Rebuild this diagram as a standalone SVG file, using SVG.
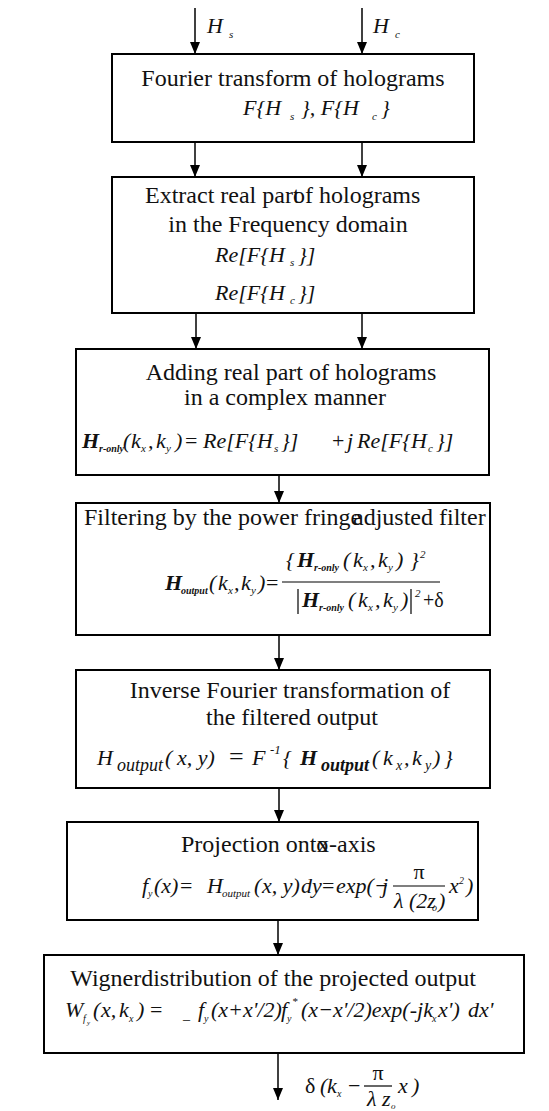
<svg xmlns="http://www.w3.org/2000/svg" width="549" height="1111" viewBox="0 0 549 1111">
<defs>
<marker id="ah" viewBox="0 0 12 10" refX="12" refY="5" markerWidth="12" markerHeight="10" markerUnits="userSpaceOnUse" orient="auto">
<path d="M0,0 L12,5 L0,10 z" fill="#000"/>
</marker>
<style>
.box{fill:none;stroke:#000;stroke-width:2}
.t{font-family:"Liberation Serif","Times New Roman",serif;font-size:24px;fill:#111}
.m{font-family:"Liberation Serif","Times New Roman",serif;font-style:italic;font-size:22px;fill:#111}
.b{font-weight:bold}
.s{font-size:11px}
.u{font-style:normal}
.rule{stroke:#000;stroke-width:1.2}
#connectors line{stroke:#000;stroke-width:1.5;marker-end:url(#ah)}
</style>
</defs>
<rect width="549" height="1111" fill="#fff"/>

<g id="connectors">
<line x1="195" y1="8" x2="195" y2="54"/>
<line x1="362" y1="8" x2="362" y2="54"/>
<line x1="195" y1="142" x2="195" y2="177"/>
<line x1="362" y1="142" x2="362" y2="177"/>
<line x1="196" y1="313" x2="196" y2="349"/>
<line x1="362" y1="313" x2="362" y2="349"/>
<line x1="279" y1="475" x2="279" y2="503"/>
<line x1="279" y1="635" x2="279" y2="670"/>
<line x1="279" y1="788" x2="279" y2="822"/>
<line x1="278" y1="920" x2="278" y2="955"/>
<line x1="278" y1="1053" x2="278" y2="1100"/>
</g>

<g id="input-labels">
<text class="m" font-size="26"><tspan x="207" y="33">H</tspan><tspan class="s" x="229" y="38">s</tspan></text>
<text class="m" font-size="26"><tspan x="373" y="33">H</tspan><tspan class="s" x="395" y="38">c</tspan></text>
</g>

<g id="node1">
<rect class="box" x="112" y="54" width="362" height="88"/>
<text class="t" x="293" y="86" text-anchor="middle">Fourier transform of holograms</text>
<text class="m" font-size="26"><tspan x="243" y="115">F{H</tspan><tspan class="s" x="290" y="120">s</tspan><tspan x="301" y="115">}, F{H</tspan><tspan class="s" x="372" y="120">c</tspan><tspan x="381" y="115">}</tspan></text>
</g>

<g id="node2">
<rect class="box" x="112" y="177" width="362" height="136"/>
<text class="t"><tspan x="145" y="203">Extract real part </tspan><tspan x="293" y="203">of holograms</tspan></text>
<text class="t" x="288" y="232" text-anchor="middle">in the Frequency domain</text>
<text class="m" font-size="24"><tspan x="215" y="262">Re[F{H</tspan><tspan class="s" x="290" y="266">s</tspan><tspan x="298" y="262">}]</tspan></text>
<text class="m" font-size="24"><tspan x="215" y="300">Re[F{H</tspan><tspan class="s" x="290" y="304">c</tspan><tspan x="298" y="300">}]</tspan></text>
</g>

<g id="node3">
<rect class="box" x="76" y="349" width="413" height="126"/>
<text class="t" x="291" y="380" text-anchor="middle">Adding real part of holograms</text>
<text class="t" x="285" y="405" text-anchor="middle">in a complex manner</text>
<text class="m"><tspan class="b" x="82" y="448">H</tspan><tspan class="b" font-size="10" x="99" y="452">r-only</tspan><tspan x="123" y="448">(</tspan><tspan x="131" y="448">k</tspan><tspan class="s" x="141" y="452">x</tspan><tspan x="148" y="448">,</tspan><tspan x="156" y="448">k</tspan><tspan class="s" x="166" y="452">y</tspan><tspan x="175" y="448">)</tspan><tspan class="u" x="185" y="448">=</tspan><tspan x="203" y="448">Re[F{H</tspan><tspan class="s" x="274" y="452">s</tspan><tspan x="281" y="448">}]</tspan><tspan class="u" x="332" y="448">+</tspan><tspan x="347" y="448">j</tspan><tspan x="357" y="448">Re[F{H</tspan><tspan class="s" x="428" y="452">c</tspan><tspan x="436" y="448">}]</tspan></text>
</g>

<g id="node4">
<rect class="box" x="76" y="503" width="414" height="132"/>
<text class="t"><tspan x="84" y="525">Filtering by the power fringe </tspan><tspan x="353" y="525">adjusted filter</tspan></text>
<text class="m"><tspan class="b" x="165" y="590">H</tspan><tspan class="b" font-size="10" x="181" y="594">output</tspan><tspan x="209" y="590">(</tspan><tspan x="218" y="590">k</tspan><tspan class="s" x="228" y="594">x</tspan><tspan x="234" y="590">,</tspan><tspan x="241" y="590">k</tspan><tspan class="s" x="251" y="594">y</tspan><tspan x="258" y="590">)</tspan><tspan class="u" x="266" y="590">=</tspan></text>
<line class="rule" x1="282" y1="582" x2="440" y2="582"/>
<text class="m"><tspan x="286" y="567">{</tspan><tspan class="b" x="297" y="567">H</tspan><tspan class="b" font-size="10" x="314" y="571">r-only</tspan><tspan x="343" y="567">(</tspan><tspan x="353" y="567">k</tspan><tspan class="s" x="363" y="571">x</tspan><tspan x="370" y="567">,</tspan><tspan x="378" y="567">k</tspan><tspan class="s" x="388" y="571">y</tspan><tspan x="396" y="567">)</tspan><tspan x="410" y="567">}</tspan><tspan class="s" x="420" y="558">2</tspan></text>
<line class="rule" x1="298" y1="589" x2="298" y2="614"/>
<text class="m"><tspan class="b" x="302" y="607">H</tspan><tspan class="b" font-size="10" x="319" y="611">r-only</tspan><tspan x="348" y="607">(</tspan><tspan x="358" y="607">k</tspan><tspan class="s" x="368" y="611">x</tspan><tspan x="375" y="607">,</tspan><tspan x="383" y="607">k</tspan><tspan class="s" x="393" y="611">y</tspan><tspan x="401" y="607">)</tspan><tspan class="s" x="415" y="597">2</tspan><tspan class="u" font-size="20" x="423" y="607">+δ</tspan></text>
<line class="rule" x1="411" y1="589" x2="411" y2="614"/>
</g>

<g id="node5">
<rect class="box" x="76" y="670" width="414" height="118"/>
<text class="t" x="290" y="698" text-anchor="middle">Inverse Fourier transformation of</text>
<text class="t" x="292" y="725" text-anchor="middle">the filtered output</text>
<text class="m" font-size="28"><tspan x="97" y="765">H</tspan><tspan font-size="18" x="117" y="771">output</tspan><tspan x="165" y="765">(</tspan><tspan x="177" y="765">x, y)</tspan><tspan class="u" font-size="26" x="229" y="765">=</tspan><tspan x="252" y="765">F</tspan><tspan font-size="13" x="270" y="754">-1</tspan><tspan x="283" y="765">{</tspan><tspan class="b" x="300" y="765">H</tspan><tspan class="b" font-size="18" x="321" y="771">output</tspan><tspan x="372" y="765">(</tspan><tspan x="383" y="765">k</tspan><tspan font-size="14" x="396" y="770">x</tspan><tspan x="404" y="765">,</tspan><tspan x="412" y="765">k</tspan><tspan font-size="14" x="425" y="770">y</tspan><tspan x="433" y="765">)</tspan><tspan x="444" y="765">}</tspan></text>
</g>

<g id="node6">
<rect class="box" x="67" y="822" width="411" height="98"/>
<text class="t"><tspan x="181" y="852">Projection onto </tspan><tspan x="317" y="852">x-axis</tspan></text>
<text class="m" font-size="20"><tspan x="142" y="893">f</tspan><tspan font-size="10" x="148" y="897">y</tspan><tspan x="154" y="893">(x)</tspan><tspan class="u" x="180" y="893">=</tspan><tspan x="207" y="893">H</tspan><tspan font-size="11" x="222" y="897">output</tspan><tspan x="254" y="893">(</tspan><tspan x="262" y="893">x, y)</tspan><tspan x="301" y="893">dy</tspan><tspan class="u" x="322" y="893">=</tspan><tspan x="336" y="893">exp(−</tspan><tspan x="382" y="893">j</tspan></text>
<text class="m u" font-size="20" x="419" y="879" text-anchor="middle">π</text>
<line class="rule" x1="393" y1="886" x2="445" y2="886"/>
<text class="m" font-size="20"><tspan x="394" y="908">λ (2z</tspan><tspan font-size="10" x="432" y="911">o</tspan><tspan x="438" y="908">)</tspan></text>
<text class="m" font-size="20"><tspan x="449" y="893">x</tspan><tspan font-size="10" x="459" y="884">2</tspan><tspan x="466" y="893">)</tspan></text>
</g>

<g id="node7">
<rect class="box" x="44" y="955" width="480" height="98"/>
<text class="t" x="273" y="986" text-anchor="middle">Wignerdistribution of the projected output</text>
<text class="m" font-size="21"><tspan x="65" y="1017">W</tspan><tspan font-size="10" x="83" y="1022">f</tspan><tspan font-size="7" x="87" y="1025">y</tspan><tspan x="93" y="1017">(</tspan><tspan x="101" y="1017">x,</tspan><tspan x="119" y="1017">k</tspan><tspan font-size="10" x="129" y="1022">x</tspan><tspan x="137" y="1017">)</tspan><tspan class="u" x="150" y="1017">=</tspan><tspan class="u" font-size="14" x="183" y="1019">_</tspan><tspan x="198" y="1017">f</tspan><tspan font-size="10" x="204" y="1022">y</tspan><tspan x="211" y="1017">(x+x'/2)</tspan><tspan x="281" y="1017">f</tspan><tspan font-size="10" x="287" y="1022">y</tspan><tspan font-size="11" x="292" y="1005">*</tspan><tspan x="301" y="1017">(x−x'/2)exp(-jk</tspan><tspan font-size="10" x="432" y="1022">x</tspan><tspan x="438" y="1017">x')</tspan><tspan x="468" y="1017">dx'</tspan></text>
</g>

<g id="output-label">
<text class="m" font-size="20"><tspan class="u" x="305" y="1093">δ</tspan><tspan x="320" y="1093">(</tspan><tspan x="327" y="1093">k</tspan><tspan font-size="10" x="337" y="1097">x</tspan><tspan class="u" x="348" y="1093">−</tspan></text>
<text class="m u" font-size="20" x="378" y="1080" text-anchor="middle">π</text>
<line class="rule" x1="364" y1="1086" x2="392" y2="1086"/>
<text class="m" font-size="20"><tspan x="367" y="1106">λ z</tspan><tspan font-size="9" x="391" y="1109">o</tspan><tspan x="398" y="1093">x</tspan><tspan x="412" y="1093">)</tspan></text>
</g>
</svg>
